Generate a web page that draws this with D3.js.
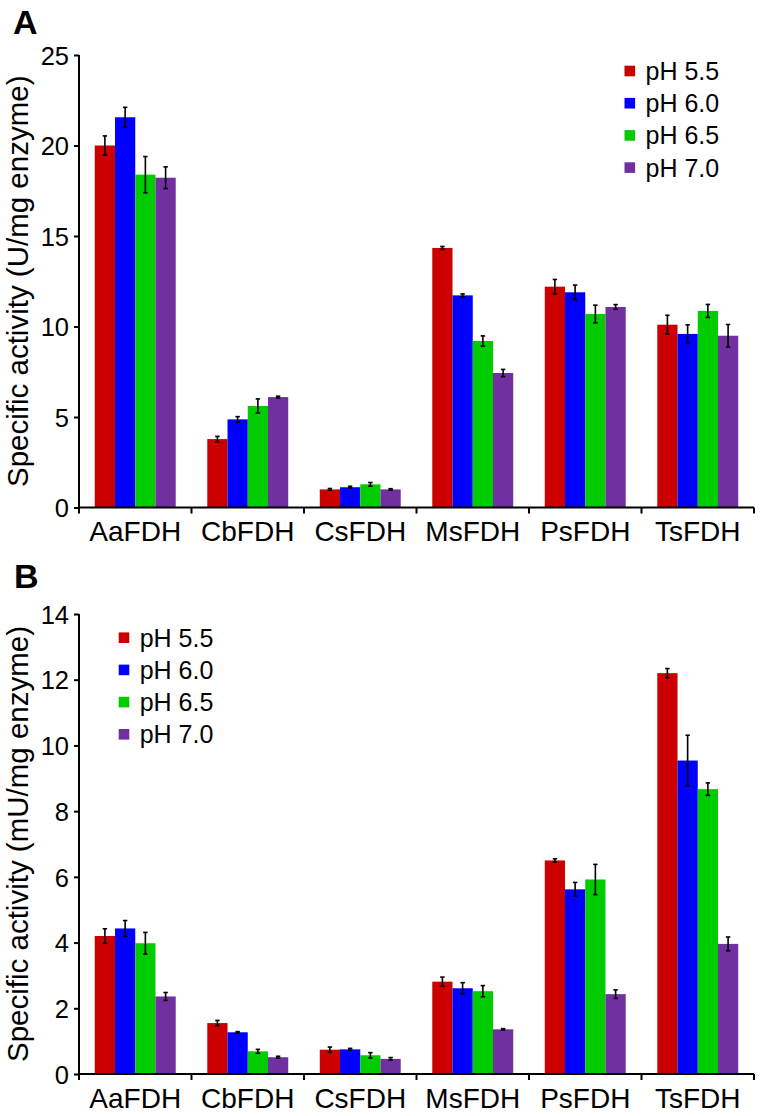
<!DOCTYPE html>
<html>
<head>
<meta charset="utf-8">
<script src="https://cdn.jsdelivr.net/npm/d3@7"></script>
<style>
  html, body { margin: 0; padding: 0; background: #fff; }
  svg { display: block; }
  text { font-family: "Liberation Sans", Arial, Helvetica, sans-serif; fill: #000; }
</style>
</head>
<body>
<script>
const categories = ["AaFDH", "CbFDH", "CsFDH", "MsFDH", "PsFDH", "TsFDH"];
const seriesLabels = ["pH 5.5", "pH 6.0", "pH 6.5", "pH 7.0"];
const seriesColors = ["#cc0000", "#0000ff", "#00cc00", "#7030a0"];

// Panel A: specific activity (U/mg enzyme)
const aPH55 = [20.0, 3.78, 1.0, 14.34, 12.2, 10.1];
const aPH60 = [21.56, 4.87, 1.12, 11.72, 11.89, 9.59];
const aPH65 = [18.39, 5.61, 1.28, 9.2, 10.69, 10.86];
const aPH70 = [18.22, 6.1, 1.0, 7.43, 11.08, 9.49];
const aErr55 = [0.53, 0.15, 0.05, 0.08, 0.4, 0.52];
const aErr60 = [0.55, 0.15, 0.05, 0.08, 0.4, 0.5];
const aErr65 = [1.0, 0.39, 0.1, 0.28, 0.49, 0.36];
const aErr70 = [0.6, 0.05, 0.04, 0.2, 0.13, 0.62];
const aTicks = [0, 5, 10, 15, 20, 25];

// Panel B: specific activity (mU/mg enzyme)
const bPH55 = [4.2, 1.55, 0.74, 2.81, 6.5, 12.2];
const bPH60 = [4.43, 1.27, 0.75, 2.61, 5.62, 9.54];
const bPH65 = [3.98, 0.69, 0.57, 2.52, 5.92, 8.67];
const bPH70 = [2.36, 0.51, 0.46, 1.36, 2.43, 3.96];
const bErr55 = [0.22, 0.08, 0.08, 0.14, 0.05, 0.14];
const bErr60 = [0.24, 0.02, 0.03, 0.17, 0.21, 0.77];
const bErr65 = [0.33, 0.06, 0.08, 0.17, 0.46, 0.19];
const bErr70 = [0.12, 0.03, 0.04, 0.02, 0.13, 0.21];
const bTicks = [0, 2, 4, 6, 8, 10, 12, 14];

const W = 761, H = 1116;
const svg = d3.select("body").append("svg").attr("width", W).attr("height", H);

function panel(opts) {
  const { label, labelX, labelY, top, bottom, yMax, ticks, values, errors, title, legendX, legendY } = opts;
  const g = svg.append("g");
  const x0 = d3.scaleBand().domain(categories).range([79, 754]).padding(0);
  const x1 = d3.scaleBand().domain(seriesLabels).range([0, x0.bandwidth()]).paddingInner(0).paddingOuter(0.78);
  const y = d3.scaleLinear().domain([0, yMax]).range([bottom, top]);

  // panel letter
  g.append("text").attr("x", labelX).attr("y", labelY)
    .attr("font-size", 34).attr("font-weight", "bold").text(label);

  // bars
  const rows = [];
  categories.forEach((c, ci) => {
    seriesLabels.forEach((s, si) => {
      rows.push({ c, s, si, v: values[si][ci], e: errors[si][ci] });
    });
  });
  g.append("g").selectAll("rect").data(rows).join("rect")
    .attr("x", d => x0(d.c) + x1(d.s))
    .attr("width", x1.bandwidth())
    .attr("y", d => y(d.v))
    .attr("height", d => y(0) - y(d.v))
    .attr("fill", d => seriesColors[d.si]);

  // error bars
  const eg = g.append("g").attr("stroke", "#000").attr("stroke-width", 1.6);
  rows.forEach(d => {
    const cx = x0(d.c) + x1(d.s) + x1.bandwidth() / 2;
    eg.append("line").attr("x1", cx).attr("x2", cx).attr("y1", y(d.v + d.e)).attr("y2", y(d.v - d.e));
    eg.append("line").attr("x1", cx - 2.2).attr("x2", cx + 2.2).attr("y1", y(d.v + d.e)).attr("y2", y(d.v + d.e));
    eg.append("line").attr("x1", cx - 2.2).attr("x2", cx + 2.2).attr("y1", y(d.v - d.e)).attr("y2", y(d.v - d.e));
  });

  // y axis
  const yAxis = d3.axisLeft(y).tickValues(ticks).tickSize(5).tickPadding(5).tickFormat(d3.format("d"));
  const ya = g.append("g").attr("transform", "translate(79,0)").call(yAxis);
  ya.select(".domain").attr("stroke-width", 2).attr("d", `M0,${top}V${bottom}`);
  ya.selectAll(".tick line").attr("stroke-width", 2);
  ya.selectAll(".tick text").attr("font-size", 25.5).attr("font-family", "Liberation Sans, Arial, sans-serif").attr("dy", "0.36em");

  // x axis (labels)
  const xAxis = d3.axisBottom(x0).tickSize(0).tickPadding(14);
  const xa = g.append("g").attr("transform", `translate(0,${bottom})`).call(xAxis);
  xa.select(".domain").attr("stroke-width", 2).attr("d", `M79,0H754`);
  xa.selectAll(".tick text").attr("font-size", 28).attr("font-family", "Liberation Sans, Arial, sans-serif");
  // boundary ticks
  const bounds = categories.map(c => x0(c)).concat([x0.range()[1]]);
  xa.selectAll(".bt").data(bounds).join("line").attr("class", "bt")
    .attr("x1", d => d).attr("x2", d => d).attr("y1", 0).attr("y2", 6)
    .attr("stroke", "#000").attr("stroke-width", 2);

  // y title
  g.append("text")
    .attr("transform", `translate(28,${(top + bottom) / 2}) rotate(-90)`)
    .attr("text-anchor", "middle").attr("font-size", 29.5).text(title);

  // legend
  const lg = g.append("g");
  seriesLabels.forEach((s, i) => {
    const cy = legendY + i * 32.2;
    lg.append("rect").attr("x", legendX).attr("y", cy - 5.3).attr("width", 10.6).attr("height", 10.6).attr("fill", seriesColors[i]);
    lg.append("text").attr("x", legendX + 21).attr("y", cy).attr("dy", "0.36em").attr("font-size", 25).text(s);
  });
}

panel({
  label: "A", labelX: 13, labelY: 34, top: 55, bottom: 507.5, yMax: 25, ticks: aTicks,
  values: [aPH55, aPH60, aPH65, aPH70], errors: [aErr55, aErr60, aErr65, aErr70],
  title: "Specific activity (U/mg enzyme)", legendX: 624.5, legendY: 71
});
panel({
  label: "B", labelX: 14, labelY: 588, top: 614, bottom: 1074, yMax: 14, ticks: bTicks,
  values: [bPH55, bPH60, bPH65, bPH70], errors: [bErr55, bErr60, bErr65, bErr70],
  title: "Specific activity (mU/mg enzyme)", legendX: 118.7, legendY: 637.7
});
</script>
</body>
</html>
